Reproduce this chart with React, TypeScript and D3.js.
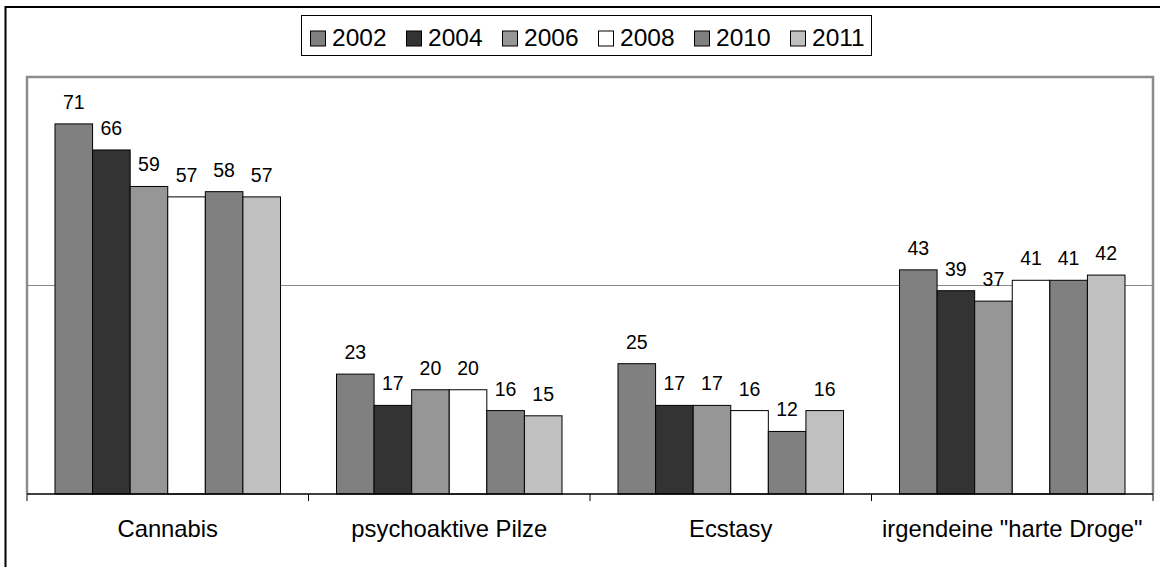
import React from "react";
import * as d3 from "d3";

const categories = ["Cannabis", "psychoaktive Pilze", "Ecstasy", 'irgendeine "harte Droge"'];
const years = ["2002", "2004", "2006", "2008", "2010", "2011"];
const v2002 = [71, 23, 25, 43];
const v2004 = [66, 17, 17, 39];
const v2006 = [59, 20, 17, 37];
const v2008 = [57, 20, 16, 41];
const v2010 = [58, 16, 12, 41];
const v2011 = [57, 15, 16, 42];
const seriesValues = [v2002, v2004, v2006, v2008, v2010, v2011];
const colors = ["#808080", "#333333", "#969696", "#ffffff", "#808080", "#c0c0c0"];
const yTicks = [0, 40, 80];

const W = 1160, H = 567;
const plot = { left: 27, right: 1153, top: 77, bottom: 494 };
const font = "'Liberation Sans', Arial, sans-serif";

export default function App() {
  const x0 = d3.scaleBand<string>().domain(categories).range([plot.left, plot.right]).paddingInner(0).paddingOuter(0);
  const x1 = d3.scaleBand<string>().domain(years).range([0, x0.bandwidth()]).paddingOuter(0.745).paddingInner(0);
  const y = d3.scaleLinear().domain([0, 80]).range([plot.bottom, plot.top]);

  const legendScale = d3.scalePoint<string>().domain(years).range([310, 790]);

  return (
    <svg width={W} height={H} style={{ position: "absolute", left: 0, top: 0, background: "#fff" }} fontFamily={font}>
      <rect x={5.5} y={7} width={W} height={H} fill="#fff" stroke="#000" strokeWidth={2} />
      {/* gridlines */}
      {yTicks.filter(t => t > 0 && t < 80).map(t => (
        <line key={t} x1={plot.left} x2={plot.right} y1={y(t)} y2={y(t)} stroke="#888" strokeWidth={1} />
      ))}
      {/* plot area border */}
      <path d={`M${plot.left},${plot.bottom} V${plot.top} H${plot.right} V${plot.bottom}`} fill="none" stroke="#8c8c8c" strokeWidth={2.5} />
      {/* bars */}
      {categories.map((c, ci) => (
        <g key={c} transform={`translate(${x0(c)},0)`}>
          {years.map((yr, si) => {
            const v = seriesValues[si][ci];
            const bx = x1(yr)!;
            const bw = x1.bandwidth();
            return (
              <g key={yr}>
                <rect x={bx} y={y(v)} width={bw} height={plot.bottom - y(v)} fill={colors[si]} stroke="#000" strokeWidth={1} />
                <text x={bx + bw / 2} y={y(v) - 15} textAnchor="middle" fontSize={19.5} fill="#000">{v}</text>
              </g>
            );
          })}
        </g>
      ))}
      {/* x axis */}
      <line x1={plot.left} x2={plot.right} y1={plot.bottom} y2={plot.bottom} stroke="#000" strokeWidth={1.5} />
      {categories.map((c, i) => (
        <line key={"t" + i} x1={x0(c)!} x2={x0(c)!} y1={plot.bottom} y2={plot.bottom + 7} stroke="#000" strokeWidth={1} />
      ))}
      <line x1={plot.right} x2={plot.right} y1={plot.bottom} y2={plot.bottom + 7} stroke="#000" strokeWidth={1} />
      {categories.map(c => (
        <text key={c} x={x0(c)! + x0.bandwidth() / 2} y={537} textAnchor="middle" fontSize={23.8} fill="#000">{c}</text>
      ))}
      {/* legend */}
      <rect x={301.5} y={15.5} width={570} height={40} fill="#fff" stroke="#000" strokeWidth={1} />
      {years.map((yr, i) => (
        <g key={yr} transform={`translate(${legendScale(yr)},0)`}>
          <rect x={0.5} y={31} width={15} height={15} fill={colors[i]} stroke="#000" strokeWidth={1} />
          <text x={22} y={46} fontSize={24.5} fill="#000">{yr}</text>
        </g>
      ))}
    </svg>
  );
}
